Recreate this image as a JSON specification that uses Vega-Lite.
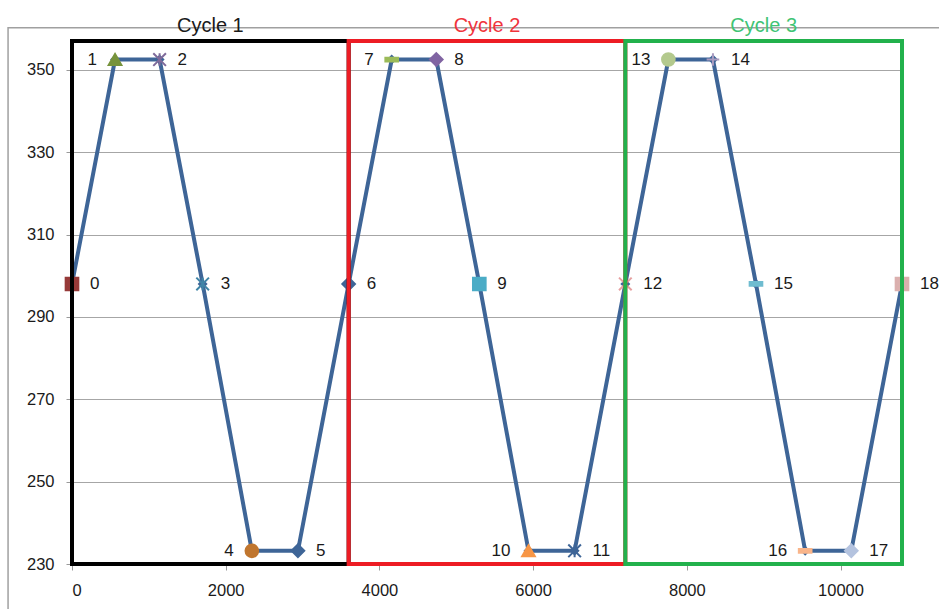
{
  "$schema": "https://vega.github.io/schema/vega-lite/v6.json",
  "width": 830,
  "height": 523,
  "autosize": "none",
  "padding": {"left": 72, "top": 41, "right": 37, "bottom": 45},
  "background": "#ffffff",
  "config": {
    "view": {"stroke": null},
    "font": "Liberation Sans",
    "axis": {
      "labelFont": "Liberation Sans",
      "labelFontSize": 16.5,
      "labelColor": "#1a1a1a",
      "tickColor": "#9a9a9a",
      "tickSize": 6,
      "domainColor": "#9a9a9a",
      "gridColor": "#a6a6a6",
      "title": null
    }
  },
  "resolve": {"scale": {"stroke": "independent", "color": "independent", "fill": "independent", "shape": "independent"}},
  "datasets": {
    "pts": [
      {"n": 0, "t": 0, "temp": 298},
      {"n": 1, "t": 560, "temp": 352.5},
      {"n": 2, "t": 1140, "temp": 352.5},
      {"n": 3, "t": 1700, "temp": 298},
      {"n": 4, "t": 2340, "temp": 233.2},
      {"n": 5, "t": 2940, "temp": 233.2},
      {"n": 6, "t": 3600, "temp": 298},
      {"n": 7, "t": 4160, "temp": 352.5},
      {"n": 8, "t": 4740, "temp": 352.5},
      {"n": 9, "t": 5300, "temp": 298},
      {"n": 10, "t": 5940, "temp": 233.2},
      {"n": 11, "t": 6540, "temp": 233.2},
      {"n": 12, "t": 7200, "temp": 298},
      {"n": 13, "t": 7760, "temp": 352.5},
      {"n": 14, "t": 8340, "temp": 352.5},
      {"n": 15, "t": 8900, "temp": 298},
      {"n": 16, "t": 9540, "temp": 233.2},
      {"n": 17, "t": 10140, "temp": 233.2},
      {"n": 18, "t": 10800, "temp": 298}
    ],
    "cycles": [
      {"cycle": "Cycle 1", "start": 0, "end": 3600, "mid": 1800},
      {"cycle": "Cycle 2", "start": 3600, "end": 7200, "mid": 5400},
      {"cycle": "Cycle 3", "start": 7200, "end": 10800, "mid": 9000}
    ]
  },
  "layer": [
    {
      "data": {"values": [{"f": 1}]},
      "mark": {"type": "rect", "fill": null, "stroke": "#a0a0a0", "strokeWidth": 1.5, "clip": false},
      "encoding": {
        "x": {"datum": -832, "type": "quantitative"},
        "x2": {"datum": 11500},
        "y": {"datum": 360.2, "type": "quantitative"},
        "y2": {"datum": 215}
      }
    },
    {
      "data": {"name": "pts"},
      "mark": {"type": "line", "color": "#3e6597", "strokeWidth": 4,
               "point": {"shape": "diamond", "size": 100, "filled": true, "color": "#3e6597"}},
      "encoding": {
        "x": {"field": "t", "type": "quantitative", "scale": {"domain": [0, 10800], "nice": false},
              "axis": {"values": [0, 2000, 4000, 6000, 8000, 10000], "format": "d", "grid": false, "labelPadding": 12}},
        "y": {"field": "temp", "type": "quantitative", "scale": {"domain": [230, 357], "nice": false, "zero": false},
              "axis": {"values": [230, 250, 270, 290, 310, 330, 350], "grid": true, "labelPadding": 12}},
        "order": {"field": "t"}
      }
    },
    {
      "data": {"name": "pts"},
      "mark": {"type": "point", "filled": true, "opacity": 1, "strokeWidth": 2},
      "encoding": {
        "x": {"field": "t", "type": "quantitative"},
        "y": {"field": "temp", "type": "quantitative"},
        "shape": {"field": "n", "type": "nominal", "legend": null,
          "scale": {"domain": [0,1,2,3,4,5,6,7,8,9,10,11,12,13,14,15,16,17,18],
                    "range": ["square", "triangle-up", "M-1,-1L1,1M-1,1L1,-1M0,-1L0,1", "M-1,-1L1,1M-1,1L1,-1M0,-1L0,1", "circle", "diamond", "diamond", "M-1,-0.3H1V0.3H-1Z", "diamond", "square", "triangle-up", "M-1,-1L1,1M-1,1L1,-1M0,-1L0,1", "M-1,-1L1,1M-1,1L1,-1", "circle", "M-1,0H1M0,-1V1", "M-1,-0.3H1V0.3H-1Z", "M-1,-0.3H1V0.3H-1Z", "diamond", "square"]}},
        "fill": {"field": "n", "type": "nominal", "legend": null,
          "scale": {"domain": [0,1,2,3,4,5,6,7,8,9,10,11,12,13,14,15,16,17,18],
                    "range": ["#963a39", "#77933c", "#7f6a9a", "#3f84a6", "#c0762f", "#3e6597", "#3e6597", "#9bbb59", "#8064a2", "#4bacc6", "#f79646", "#3e6597", "#e6a0a0", "#b3c98d", "#a99bc0", "#6fbcd0", "#f9b58a", "#b4c3df", "#dbb0ae"]}},
        "stroke": {"field": "n", "type": "nominal", "legend": null,
          "scale": {"domain": [0,1,2,3,4,5,6,7,8,9,10,11,12,13,14,15,16,17,18],
                    "range": ["#963a39", "#77933c", "#7f6a9a", "#3f84a6", "#c0762f", "#3e6597", "#3e6597", "#9bbb59", "#8064a2", "#4bacc6", "#f79646", "#3e6597", "#e6a0a0", "#b3c98d", "#a99bc0", "#6fbcd0", "#f9b58a", "#b4c3df", "#dbb0ae"]}},
        "size": {"value": 160}
      }
    },
    {
      "data": {"name": "cycles"},
      "mark": {"type": "rect", "fill": null, "strokeWidth": 4},
      "encoding": {
        "x": {"field": "start", "type": "quantitative"},
        "x2": {"field": "end"},
        "y": {"datum": 357, "type": "quantitative"},
        "y2": {"datum": 230},
        "stroke": {"field": "cycle", "type": "nominal", "legend": null,
          "scale": {"domain": ["Cycle 1", "Cycle 2", "Cycle 3"], "range": ["#000000", "#ed1c24", "#22b14c"]}}
      }
    },
    {
      "data": {"name": "cycles"},
      "mark": {"type": "text", "fontSize": 20, "dy": -15, "baseline": "middle", "align": "center"},
      "encoding": {
        "x": {"field": "mid", "type": "quantitative"},
        "y": {"datum": 357, "type": "quantitative"},
        "text": {"field": "cycle"},
        "color": {"field": "cycle", "type": "nominal", "legend": null,
          "scale": {"domain": ["Cycle 1", "Cycle 2", "Cycle 3"], "range": ["#1a1a1a", "#f0343c", "#3fc474"]}}
      }
    },
    {
      "data": {"name": "pts"},
      "transform": [{"filter": "datum.n % 3 != 1"}],
      "mark": {"type": "text", "fontSize": 17, "align": "left", "baseline": "middle", "dx": 18, "color": "#1a1a1a"},
      "encoding": {
        "x": {"field": "t", "type": "quantitative"},
        "y": {"field": "temp", "type": "quantitative"},
        "text": {"field": "n", "type": "nominal"}
      }
    },
    {
      "data": {"name": "pts"},
      "transform": [{"filter": "datum.n % 3 == 1"}],
      "mark": {"type": "text", "fontSize": 17, "align": "right", "baseline": "middle", "dx": -18, "color": "#1a1a1a"},
      "encoding": {
        "x": {"field": "t", "type": "quantitative"},
        "y": {"field": "temp", "type": "quantitative"},
        "text": {"field": "n", "type": "nominal"}
      }
    }
  ]
}
